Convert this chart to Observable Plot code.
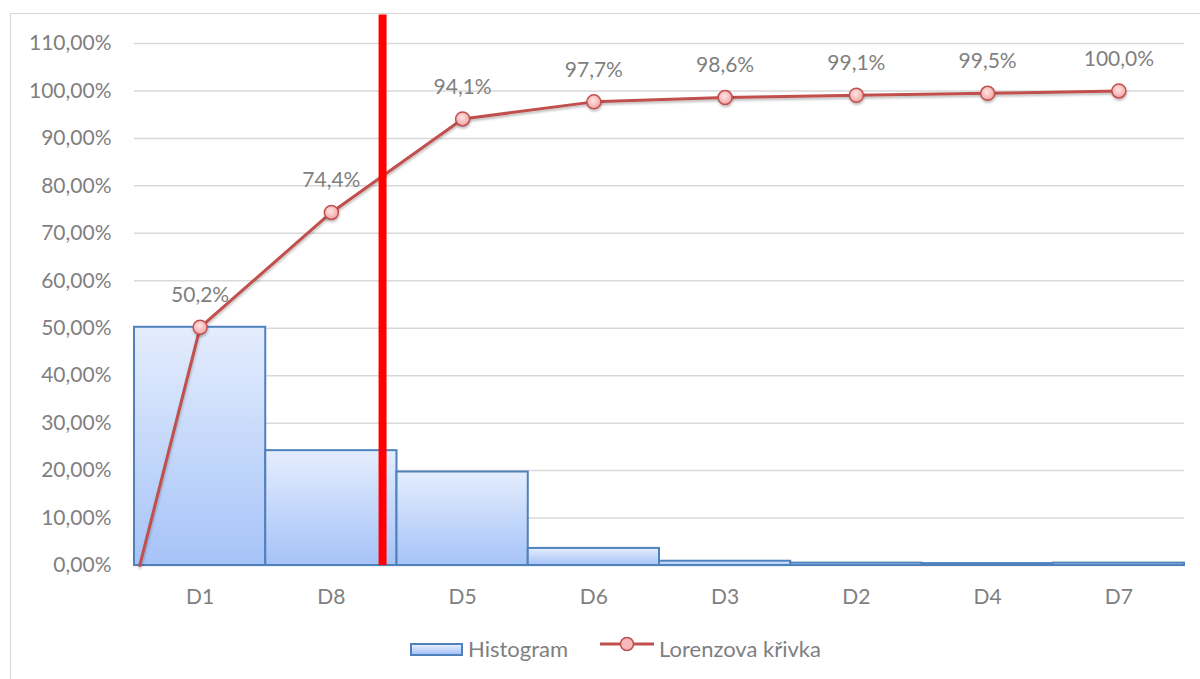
<!DOCTYPE html>
<html>
<head>
<meta charset="utf-8">
<script src="https://cdn.jsdelivr.net/npm/d3@7"></script>
<script src="https://cdn.jsdelivr.net/npm/@observablehq/plot@0.6"></script>
<style>
  html, body { margin: 0; padding: 0; background: #fff; }
  #chart { position: relative; width: 1200px; height: 679px; overflow: hidden; font-family: Lato, "Open Sans", sans-serif; }
  #frame { position: absolute; left: 10px; top: 13px; width: 1300px; height: 800px; border: 1.5px solid #d6d6d6; box-sizing: border-box; }
  #plot { position: absolute; left: 0; top: 0; }
  #legend { position: absolute; left: 0; top: 625px; width: 1200px; height: 54px; color: #7f7f7f; font-size: 22px; }
  .lg { position: absolute; line-height: 25px; white-space: nowrap; }
  .swatch-bar { position: absolute; left: 410px; width: 53px; height: 13px; box-sizing: border-box;
    border: 2px solid #4f81bd; background: linear-gradient(#e4edfd, #a6c3f8); }
</style>
</head>
<body>
<div id="chart">
  <div id="frame"></div>
  <div id="plot"></div>
  <div id="legend"></div>
</div>
<script>
// Pareto analysis: share of each category and the cumulative (Lorenz) curve
const categories = ["D1", "D8", "D5", "D6", "D3", "D2", "D4", "D7"];
const shares     = [0.502, 0.242, 0.197, 0.036, 0.009, 0.005, 0.004, 0.005];
const cumulative = [0.502, 0.744, 0.941, 0.977, 0.986, 0.991, 0.995, 1.000];
const yTicks     = [0, 0.1, 0.2, 0.3, 0.4, 0.5, 0.6, 0.7, 0.8, 0.9, 1.0, 1.1];
const curveStart = {x: 0.04, y: 0};   // the curve begins at the origin
const cutoffX    = 1.89;              // 80 % cut-off, in category units
const cutoffTop  = 1.16;

const bars = categories.map((c, i) => ({cat: c, x1: i, x2: i + 1, share: shares[i]}));
const points = categories.map((c, i) => ({cat: c, x: i + 0.5, y: cumulative[i]}));
const curve = [curveStart, ...points];

const pct2 = v => (v * 100).toFixed(2).replace(".", ",") + "%";
const pct1 = v => (v * 100).toFixed(1).replace(".", ",") + "%";

const svg = Plot.plot({
  width: 1200,
  height: 625,
  marginLeft: 134,
  marginRight: 16,
  marginTop: 43,
  marginBottom: 60,
  style: {fontFamily: "Lato, 'Open Sans', sans-serif", fontSize: "21px", color: "#7f7f7f", background: "transparent"},
  x: {type: "linear", domain: [0, 8]},
  y: {domain: [0, 1.1]},
  marks: [
    Plot.ruleY(yTicks.slice(1), {stroke: "#d9d9d9", strokeWidth: 1.5}),
    Plot.ruleY([0], {stroke: "#c4c4c4", strokeWidth: 1.5}),
    Plot.rectY(bars, {x1: "x1", x2: "x2", y1: 0, y2: "share", fill: "url(#barGrad)", stroke: "#4f81bd", strokeWidth: 2}),
    Plot.line(curve, {x: "x", y: "y", stroke: "#c0504d", strokeWidth: 3}),
    Plot.dot(points, {x: "x", y: "y", r: 7, fill: "url(#dotGrad)", stroke: "#c0504d", strokeWidth: 1.5}),
    Plot.ruleX([cutoffX], {y1: 0, y2: cutoffTop, stroke: "#ff0000", strokeWidth: 8}),
    Plot.text(points, {x: "x", y: "y", text: d => pct1(d.y), dy: -32, fill: "#7f7f7f", fontSize: 21}),
    Plot.axisY({ticks: yTicks, tickFormat: pct2, tickSize: 0, tickPadding: 23, fontSize: 21}),
    Plot.axisX({ticks: categories.map((c, i) => i + 0.5), tickFormat: v => categories[Math.round(v - 0.5)],
                tickSize: 0, tickPadding: 24, fontSize: 21})
  ]
});

// gradients and soft shadow used by the marks
const defs = d3.select(svg).insert("defs", ":first-child");
const bg = defs.append("linearGradient").attr("id", "barGrad").attr("x1", 0).attr("y1", 0).attr("x2", 0).attr("y2", 1);
bg.append("stop").attr("offset", "0%").attr("stop-color", "#e4edfd");
bg.append("stop").attr("offset", "100%").attr("stop-color", "#a6c3f8");
const dg = defs.append("radialGradient").attr("id", "dotGrad").attr("cx", 0.45).attr("cy", 0.4).attr("r", 0.6);
dg.append("stop").attr("offset", "0%").attr("stop-color", "#ffe4e4");
dg.append("stop").attr("offset", "100%").attr("stop-color", "#f3a3a3");
const sh = defs.append("filter").attr("id", "soft").attr("x", "-10%").attr("y", "-10%").attr("width", "120%").attr("height", "130%");
sh.append("feDropShadow").attr("dx", 0.5).attr("dy", 2).attr("stdDeviation", 1.2)
  .attr("flood-color", "#000").attr("flood-opacity", 0.25);
d3.select(svg).selectAll("g[aria-label=line], g[aria-label=dot]").attr("filter", "url(#soft)");

document.getElementById("plot").appendChild(svg);

// legend below the plot
const legend = document.getElementById("legend");
legend.innerHTML = `
  <div class="swatch-bar" style="top:18px"></div>
  <div class="lg" style="left:468px; top:11px">Histogram</div>
  <svg style="position:absolute; left:600px; top:11px" width="56" height="16">
    <line x1="0" y1="8" x2="54" y2="8" stroke="#c0504d" stroke-width="3"></line>
    <circle cx="27" cy="8" r="6.5" fill="#f7b9b9" stroke="#c0504d" stroke-width="1.5"></circle>
  </svg>
  <div class="lg" style="left:659px; top:11px">Lorenzova křivka</div>`;
</script>
</body>
</html>
